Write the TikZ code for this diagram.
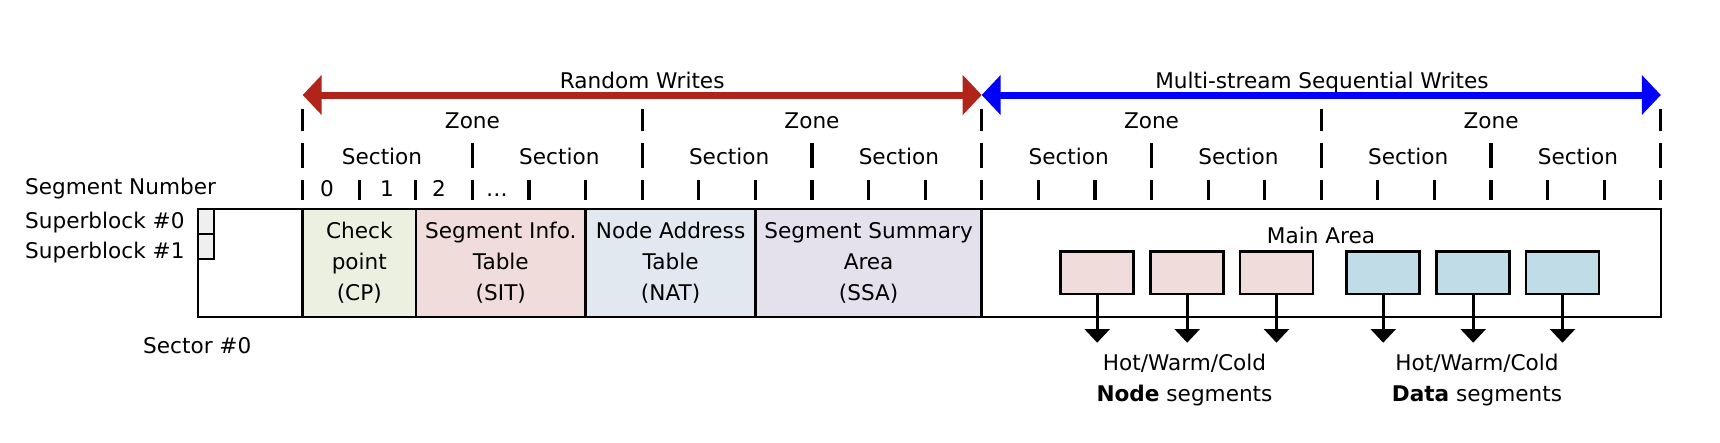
\documentclass[tikz,border=0pt]{standalone}
\usepackage{fontspec}
\setmainfont{DejaVu Sans}
\usetikzlibrary{arrows.meta}
\definecolor{cpfill}{HTML}{EBF0E0}
\definecolor{sitfill}{HTML}{F0DCDA}
\definecolor{natfill}{HTML}{E1E8F0}
\definecolor{ssafill}{HTML}{E5E1EC}
\definecolor{nodeseg}{HTML}{F0DCDA}
\definecolor{dataseg}{HTML}{C0DCE6}
\definecolor{sbfill}{HTML}{EFEFEF}
\definecolor{rwred}{HTML}{B1241A}
\definecolor{swblue}{HTML}{0000FF}
\begin{document}
\begin{tikzpicture}[x=1pt,y=-1pt,
  font=\fontsize{21.6}{31}\selectfont,
  tick/.style={line width=3.2pt},
  region/.style={draw, line width=2.6pt, align=center, inner sep=0pt, minimum height=108pt},
  sbbox/.style={draw, line width=2.6pt, fill=sbfill, inner sep=0pt, minimum width=16pt, minimum height=25pt},
  segbox/.style={draw, line width=2.6pt, minimum width=73pt, minimum height=42.3pt, inner sep=0pt},
  downarrow/.style={line width=2.8pt, -{Triangle[length=13.7pt,width=25pt]}},
  bigarrow/.style={line width=7pt, {Triangle[length=19pt,width=39pt]}-{Triangle[length=19pt,width=39pt]}},
  lbl/.style={anchor=base, inner sep=0pt},
  lbll/.style={anchor=base west, inner sep=0pt},
]
\useasboundingbox (0,0) rectangle (1720,442);

% big arrows
\coordinate (rl) at (302.7,95);
\coordinate (rm) at (981.7,95);
\coordinate (br) at (1660.8,95);
\draw[bigarrow, rwred] (rl) -- (rm);
\draw[bigarrow, swblue] (rm) -- (br);
\node[lbl] (rwlabel) at (642.2,88) {Random Writes};
\node[lbl] (swlabel) at (1322,88) {Multi-stream Sequential Writes};

% ticks
\foreach \i in {0,...,4} \draw[tick] ({302.7+339.525*\i},109) -- ++(0,22);
\foreach \i in {0,...,8} \draw[tick] ({302.7+169.7625*\i},143) -- ++(0,25);
\foreach \i in {0,...,24} \draw[tick] ({302.7+56.5875*\i},180) -- ++(0,20);

% zone / section labels
\foreach \i in {0,...,3} \node[lbl] (zone\i) at ({472.45+339.525*\i},128) {Zone};
\node[lbl] (sec0) at (382,164) {Section};
\foreach \i in {1,...,7} \node[lbl] (sec\i) at ({389.6+169.7625*\i},164) {Section};

% segment numbers
\node[lbl] (n0) at (327,196.7) {0};
\node[lbl] (n1) at (387,196.7) {1};
\node[lbl] (n2) at (439,196.7) {2};
\node[lbl] (n3) at (497,196.7) {…};

% left labels
\node[lbll] (segnum) at (25,194) {Segment Number};
\node[lbll] (sb0l) at (25,228) {Superblock \#0};
\node[lbll] (sb1l) at (25,258) {Superblock \#1};
\node[lbll] (sec0l) at (143,353) {Sector \#0};

% regions
\node[region, fill=white, minimum width=104.7pt] (sbarea) at (250.35,263) {};
\node[sbbox] (sb0) at (206,221.5) {};
\node[sbbox] (sb1) at (206,246.5) {};
\node[region, fill=cpfill, minimum width=113.2pt] (cp) at (359.3,263) {Check\\point\\(CP)};
\node[region, fill=sitfill, minimum width=169.8pt] (sit) at (500.8,263) {Segment Info.\\Table\\(SIT)};
\node[region, fill=natfill, minimum width=169.8pt] (nat) at (670.6,263) {Node Address\\Table\\(NAT)};
\node[region, fill=ssafill, minimum width=226.2pt] (ssa) at (868.6,263) {Segment Summary\\Area\\(SSA)};
\node[region, fill=white, minimum width=679.1pt] (main) at (1321.25,263) {};
\node[lbl] (mainlabel) at (1321,243) {Main Area};

% segment boxes
\foreach \n/\x/\c in {1/1097.2/nodeseg, 2/1187.2/nodeseg, 3/1276.5/nodeseg, 4/1383.2/dataseg, 5/1473.2/dataseg, 6/1562.5/dataseg} {
  \node[segbox, fill=\c] (s\n) at (\x,272.85) {};
  \coordinate (e\n) at (\x,342.7);
  \draw[downarrow] (s\n.south) -- (e\n);
}

\node[align=center, inner sep=0pt] (nodetxt) at (1184.5,380) {Hot/Warm/Cold\\\textbf{Node} segments};
\node[align=center, inner sep=0pt] (datatxt) at (1477,380) {Hot/Warm/Cold\\\textbf{Data} segments};
\end{tikzpicture}
\end{document}
